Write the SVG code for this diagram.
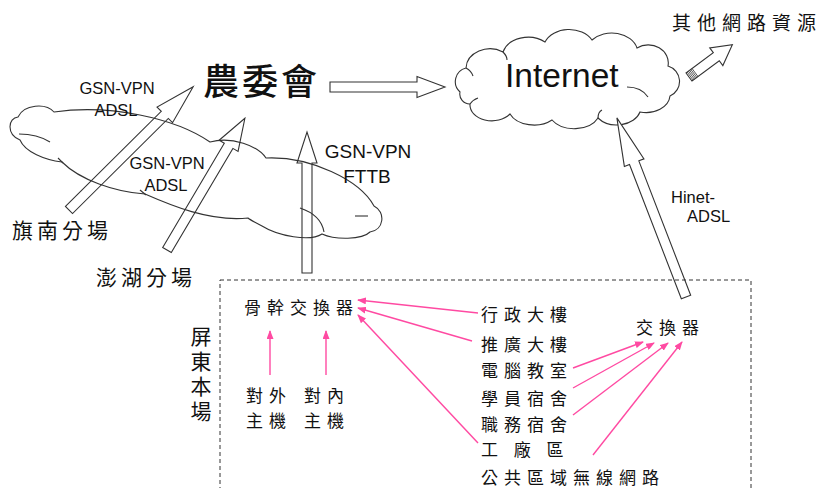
<svg xmlns="http://www.w3.org/2000/svg" width="830" height="488" viewBox="0 0 830 488">
<style>
.bg{fill:#fff}
.cloud{fill:none;stroke:#333;stroke-width:1.1}
.cloudw{fill:#fff;stroke:#333;stroke-width:1.1}
.blk{fill:none;stroke:#333;stroke-width:1.1}
.blkw{fill:#fff;stroke:#333;stroke-width:1.1}
.lat{font-family:"Liberation Sans",Arial,sans-serif;fill:#111}
.cjk{font-family:"Noto Sans CJK TC","Noto Sans CJK SC",sans-serif;fill:#111}
.lbl{font-size:17px;letter-spacing:6px}
.pink{stroke:#ff4aa2;stroke-width:1.4;fill:none;marker-end:url(#ph)}
.dash{fill:none;stroke:#333;stroke-width:1;stroke-dasharray:4 3}
</style>
<defs>
<marker id="ph" markerUnits="userSpaceOnUse" markerWidth="9" markerHeight="7" refX="8" refY="3.5" orient="auto">
<path d="M0,0 L9,3.5 L0,7 z" fill="#ff4aa2"/>
</marker>
</defs>
<rect class="bg" x="0" y="0" width="830" height="488"/>

<g id="cloud-gsn">
<path class="cloud" d="M20,140 C6,134 8,118 18,117 C24,104 46,103 54,112 C110,104 175,118 210,142 C232,136 258,146 266,158 C310,156 360,180 374,206 C386,212 384,230 370,232 C362,240 335,240 322,234 C310,242 278,236 262,226 C255,222 250,220 248,218 C210,222 170,205 145,194 C115,192 80,180 62,162 C45,160 25,152 20,140 Z"/>
<path class="cloud" d="M19,134 C30,134 42,137 50,142"/>
<path class="cloud" d="M355,216 L368,216"/>
<path class="cloud" d="M300,208 C312,212 322,220 324,232"/>
<path class="cloud" d="M140,190 L146,195"/>
<path class="cloud" d="M58,158 L63,163"/>
</g>

<g id="cloud-internet">
<path class="cloudw" d="M460,92 A14,14 0 0 1 466,68 A24,20 0 0 1 503,52 A26,20 0 0 1 545,42 A26,20 0 0 1 592,40 A26,20 0 0 1 637,48 A20,18 0 0 1 668,66 A16,16 0 0 1 670,96 A24,18 0 0 1 640,112 A24,18 0 0 1 598,118 A26,18 0 0 1 552,120 A26,18 0 0 1 510,114 A22,16 0 0 1 470,104 A10,10 0 0 1 460,92 Z"/>
<path class="cloud" d="M466,68 C470,70 472,73 473,76"/>
<path class="cloud" d="M503,52 C506,55 507,58 507,60"/>
<path class="cloud" d="M627,87 C636,87 644,91 648,97"/>
<path class="cloud" d="M470,104 C472,101 475,99 478,98"/>
<path class="cloud" d="M598,118 C598,114 600,111 602,110"/>
<text class="lat" x="505" y="87" font-size="33.5">Internet</text>
</g>

<g id="connectors">
<polygon class="blk" transform="translate(69,210) rotate(-44.8)" points="0,-5 135,-5 135,-11 175,0 135,11 135,5 0,5"/>
<polygon class="blk" transform="translate(167,250) rotate(-59.4)" points="0,-5 121,-5 121,-11 153,0 121,11 121,5 0,5"/>
<polygon class="blk" transform="translate(307,273) rotate(-90)" points="0,-5 110,-5 110,-10 141,0 110,10 110,5 0,5"/>
<polygon class="blkw" transform="translate(330,87)" points="0,-5 87,-5 87,-10.5 115,0 87,10.5 87,5 0,5"/>
<polygon class="blkw" transform="translate(686,297) rotate(-111.1)" points="0,-5 144,-5 144,-10.5 192,0 144,10.5 144,5 0,5"/>
<g transform="translate(689,77) rotate(-36.6)">
<polygon class="blkw" points="0,-5 34,-5 34,-11 54,0 34,11 34,5 0,5"/>
<path d="M1.5,-5V5M3,-5V5M4.5,-5V5M6,-5V5M7.5,-5V5" stroke="#444" stroke-width="0.8"/>
</g>
<path class="pink" d="M270,375 L270,331"/>
<path class="pink" d="M326,375 L326,331"/>
<path class="pink" d="M478,313 L358,300"/>
<path class="pink" d="M472,341 L358,308"/>
<path class="pink" d="M478,443 L358,315"/>
<path class="pink" d="M573,368 L643,342"/>
<path class="pink" d="M573,388 L654,343"/>
<path class="pink" d="M573,415 L668,343"/>
<path class="pink" d="M593,455 L682,342"/>
</g>

<g id="coa">
<text class="cjk" x="203" y="95" font-size="36" font-weight="500" letter-spacing="3">農委會</text>
</g>

<g id="label-gsn1">
<text class="lat" font-size="16.5" text-anchor="middle"><tspan x="117" y="94">GSN-VPN</tspan><tspan x="116" y="116">ADSL</tspan></text>
</g>
<g id="label-gsn2">
<text class="lat" font-size="16.5" text-anchor="middle"><tspan x="167" y="169">GSN-VPN</tspan><tspan x="166" y="191">ADSL</tspan></text>
</g>
<g id="label-gsn3">
<text class="lat" font-size="19" text-anchor="middle"><tspan x="368" y="158">GSN-VPN</tspan><tspan x="367" y="183">FTTB</tspan></text>
</g>
<g id="label-hinet">
<text class="lat" font-size="16.5"><tspan x="671" y="203">Hinet-</tspan><tspan x="687" y="222">ADSL</tspan></text>
</g>

<g id="other-resources">
<text class="cjk" x="672" y="30" font-size="19" letter-spacing="6">其他網路資源</text>
</g>

<g id="qinan">
<text class="cjk" x="12" y="238" font-size="21" letter-spacing="4">旗南分場</text>
</g>
<g id="penghu">
<text class="cjk" x="96" y="285" font-size="21" letter-spacing="4">澎湖分場</text>
</g>

<g id="pingtung">
<rect class="dash" x="220" y="280" width="531" height="215"/>
<text class="cjk" x="201" y="326" font-size="21" letter-spacing="4" style="writing-mode:vertical-rl">屏東本場</text>
</g>

<g id="core-switch"><text class="cjk lbl" x="244" y="314" letter-spacing="5">骨幹交換器</text></g>
<g id="ext-host"><text class="cjk lbl" letter-spacing="9"><tspan x="246" y="402">對外</tspan><tspan x="246" y="427">主機</tspan></text></g>
<g id="int-host"><text class="cjk lbl" letter-spacing="9"><tspan x="304" y="402">對內</tspan><tspan x="304" y="427">主機</tspan></text></g>
<g id="admin"><text class="cjk lbl" x="481" y="321">行政大樓</text></g>
<g id="ext-bldg"><text class="cjk lbl" x="481" y="351">推廣大樓</text></g>
<g id="pc-room"><text class="cjk lbl" x="481" y="377">電腦教室</text></g>
<g id="dorm-student"><text class="cjk lbl" x="481" y="405">學員宿舍</text></g>
<g id="dorm-staff"><text class="cjk lbl" x="481" y="431">職務宿舍</text></g>
<g id="factory"><text class="cjk lbl" x="481" y="456" letter-spacing="4.6">工 廠 區</text></g>
<g id="wifi"><text class="cjk lbl" x="481" y="484">公共區域無線網路</text></g>
<g id="switch"><text class="cjk lbl" x="636" y="334">交換器</text></g>
</svg>
